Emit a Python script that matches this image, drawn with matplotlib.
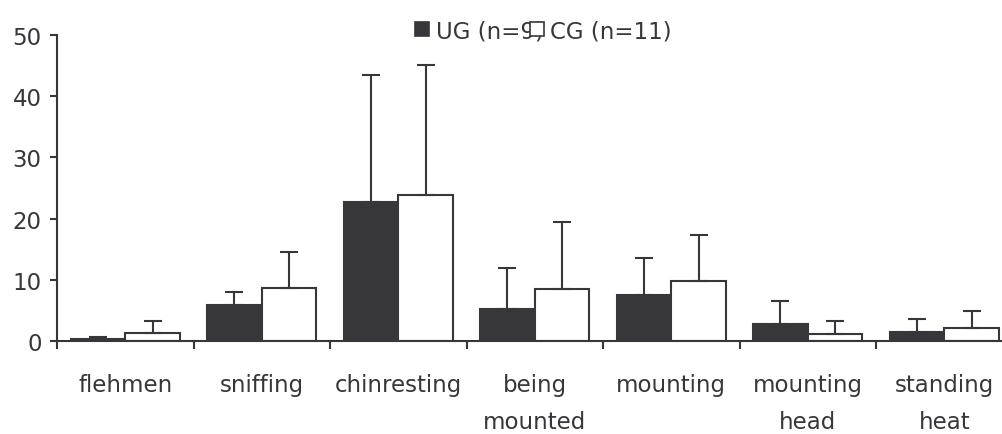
import numpy as np
import matplotlib
matplotlib.use('Agg')
import matplotlib.pyplot as plt
from matplotlib.patches import Patch

# behaviour categories
categories = ['flehmen', 'sniffing', 'chinresting', 'being\nmounted',
              'mounting', 'mounting\nhead', 'standing\nheat']

# means and upper error (SD)
ug_mean = [0.3, 5.9, 22.7, 5.2, 7.5, 2.8, 1.5]
ug_err = [0.3, 2.1, 20.8, 6.8, 6.0, 3.7, 2.1]
cg_mean = [1.3, 8.7, 23.9, 8.5, 9.8, 1.1, 2.1]
cg_err = [1.9, 5.8, 21.2, 10.9, 7.6, 2.2, 2.8]

DARK = '#37373b'
FS = 16.5
plt.rcParams['font.family'] = 'DejaVu Sans'
plt.rcParams['text.color'] = DARK

fig = plt.figure(figsize=(10.02, 4.35), dpi=100)
ax = fig.add_axes([57 / 1002, 93 / 435, 955.5 / 1002, 306 / 435])

x = np.arange(len(categories))
w = 0.4
ax.bar(x - w / 2, ug_mean, w, color=DARK, edgecolor=DARK, linewidth=1.5, zorder=2)
ax.bar(x + w / 2, cg_mean, w, color='white', edgecolor=DARK, linewidth=1.5, zorder=2)
ax.errorbar(x - w / 2, ug_mean, yerr=[np.zeros(len(x)), ug_err], fmt='none',
            ecolor=DARK, elinewidth=1.5, capsize=6.5, capthick=1.5, zorder=3)
ax.errorbar(x + w / 2, cg_mean, yerr=[np.zeros(len(x)), cg_err], fmt='none',
            ecolor=DARK, elinewidth=1.5, capsize=6.5, capthick=1.5, zorder=3)

ax.set_xlim(-0.5, len(categories) - 0.5)
ax.set_ylim(0, 50)
ax.set_yticks(range(0, 51, 10))
ax.set_xticks(x)
ax.set_xticklabels(categories, linespacing=1.8, va='top')
ax.set_xticks(np.arange(-0.5, len(categories)), minor=True)
ax.tick_params(axis='x', which='major', length=0, pad=23, labelsize=FS, colors=DARK)
ax.tick_params(axis='x', which='minor', length=6, width=1.5, direction='out', color=DARK)
ax.tick_params(axis='y', length=5, width=1.5, direction='out', labelsize=FS,
               colors=DARK, pad=6)

for s in ['top', 'right']:
    ax.spines[s].set_visible(False)
for s in ['left', 'bottom']:
    ax.spines[s].set_color(DARK)
    ax.spines[s].set_linewidth(1.5)

handles = [Patch(facecolor=DARK, edgecolor=DARK, linewidth=1.2),
           Patch(facecolor='white', edgecolor=DARK, linewidth=1.2)]
fig.legend(handles, ['UG (n=9)', 'CG (n=11)'], loc='upper left',
           bbox_to_anchor=(399 / 1002, 1 - 4 / 435), ncol=2, frameon=False,
           fontsize=FS, handlelength=0.6, handleheight=0.6, handletextpad=0.3,
           columnspacing=-0.6, borderpad=0.2)

fig.savefig('out.png', dpi=100)
